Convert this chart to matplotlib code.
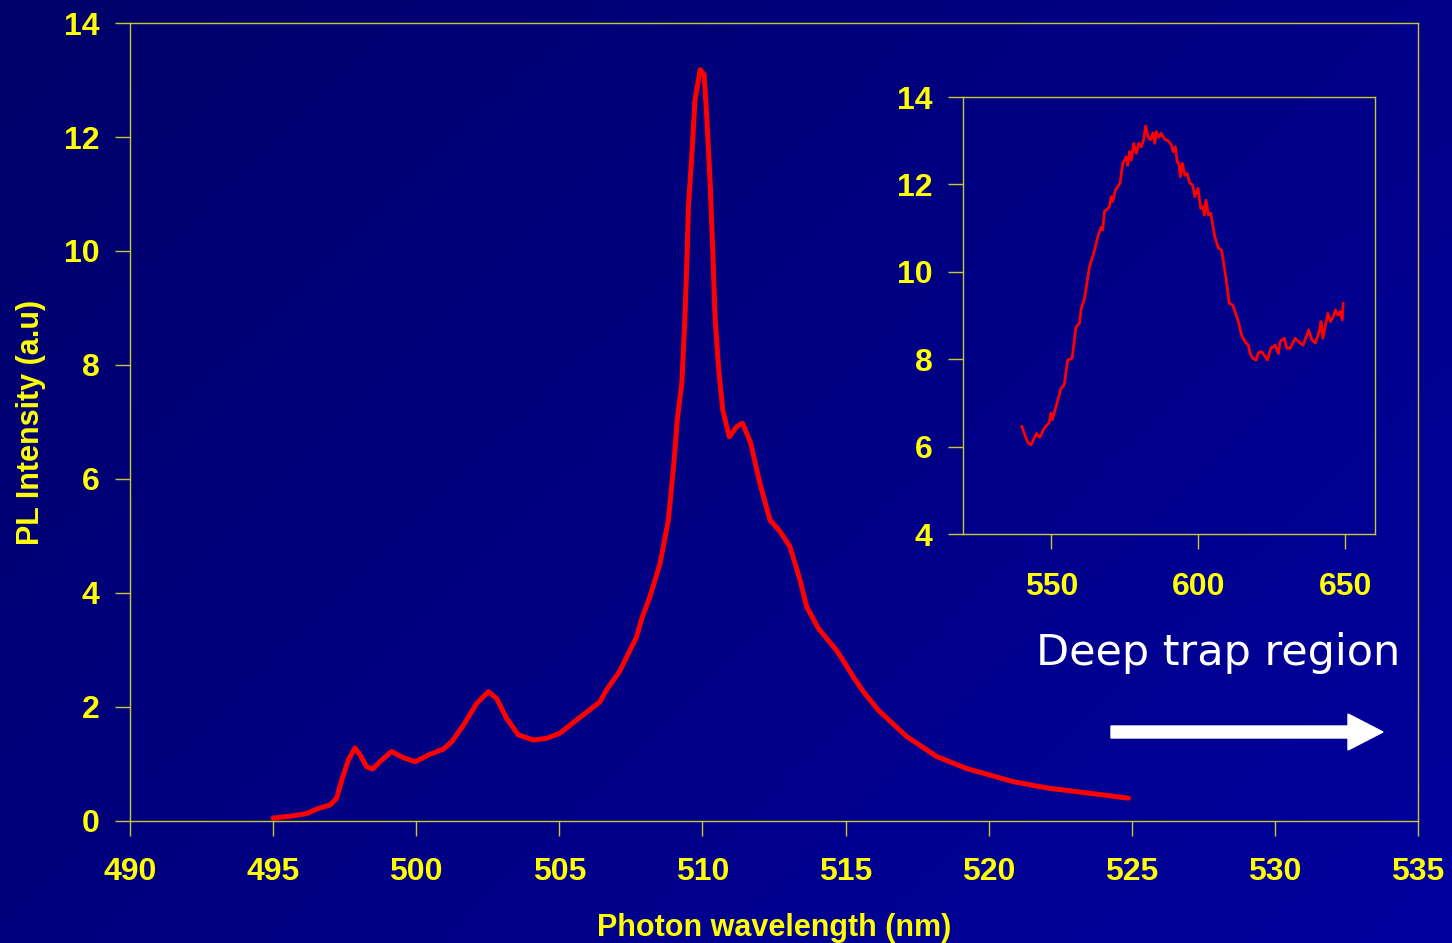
import numpy as np
import matplotlib
matplotlib.use('Agg')
import matplotlib.pyplot as plt
from matplotlib.patches import FancyArrow

# main PL spectrum (nm, a.u.)
wl = [495.0, 495.7, 496.17, 496.58, 496.99, 497.22, 497.4, 497.63, 497.86, 498.04,
      498.27, 498.48, 498.73, 499.14, 499.55, 499.96, 500.48, 500.95, 501.24, 501.65,
      502.11, 502.52, 502.81, 503.16, 503.57, 504.09, 504.56, 505.02, 505.6, 506.19,
      506.42, 506.65, 507.1, 507.7, 507.88, 508.17, 508.52, 508.81, 508.98, 509.04,
      509.12, 509.28, 509.39, 509.47, 509.51, 509.62, 509.74, 509.92, 510.06, 510.15,
      510.27, 510.36, 510.44, 510.56, 510.71, 510.94, 511.2, 511.4, 511.68, 512.01,
      512.36, 512.71, 513.06, 513.41, 513.64, 514.05, 514.72, 515.27, 515.62, 516.15,
      517.14, 518.19, 519.23, 520.86, 522.03, 523.78, 524.88]
pl = [0.05, 0.09, 0.13, 0.22, 0.28, 0.40, 0.72, 1.07, 1.28, 1.16,
      0.95, 0.91, 1.04, 1.22, 1.11, 1.04, 1.17, 1.26, 1.39, 1.68,
      2.06, 2.27, 2.15, 1.80, 1.51, 1.42, 1.45, 1.54, 1.77, 2.00,
      2.09, 2.30, 2.62, 3.23, 3.55, 3.94, 4.52, 5.28, 6.16, 6.51,
      7.04, 7.68, 8.85, 10.02, 10.78, 11.6, 12.65, 13.18, 13.10, 12.36,
      11.19, 10.02, 8.85, 7.97, 7.21, 6.74, 6.92, 6.98, 6.64, 5.92,
      5.28, 5.08, 4.81, 4.23, 3.76, 3.38, 2.97, 2.53, 2.27, 1.94,
      1.48, 1.13, 0.92, 0.69, 0.58, 0.47, 0.40]

# deep trap region (inset)
wl_deep = [540.0, 541.9, 543.1, 545.0, 546.1, 547.6, 549.3, 549.9, 550.4, 551.6,
           553.3, 554.4, 555.6, 557.1, 558.4, 559.6, 560.1, 561.3, 563.0, 564.1,
           565.0, 565.8, 567.0, 567.5, 568.1, 569.8, 570.4, 570.9, 571.8, 573.4,
           574.3, 575.5, 576.0, 576.6, 577.2, 578.0, 578.9, 579.8, 580.6, 581.4,
           582.1, 582.9, 583.7, 584.6, 585.2, 585.7, 586.6, 587.4, 588.6, 589.7,
           590.9, 591.4, 592.2, 592.8, 593.4, 593.9, 594.6, 595.4, 596.2, 597.1,
           598.0, 598.8, 599.9, 600.8, 601.6, 602.0, 602.6, 603.4, 604.2, 605.6,
           606.8, 607.9, 609.4, 610.5, 611.7, 613.6, 614.7, 615.9, 617.0, 617.6,
           618.5, 619.6, 620.4, 621.6, 623.5, 624.6, 626.1, 627.2, 627.8, 629.2,
           630.1, 631.2, 632.9, 634.1, 635.6, 637.5, 638.6, 639.8, 641.2, 641.7,
           642.3, 643.2, 644.0, 644.9, 645.8, 646.6, 647.4, 648.1, 648.9, 649.2]
pl_deep = [6.46, 6.11, 6.04, 6.30, 6.21, 6.42, 6.55, 6.76, 6.62, 6.91,
           7.33, 7.41, 7.98, 8.02, 8.74, 8.82, 9.13, 9.39, 10.12, 10.35,
           10.57, 10.80, 11.03, 10.96, 11.38, 11.49, 11.72, 11.61, 11.87, 12.03,
           12.48, 12.63, 12.44, 12.75, 12.56, 12.94, 12.71, 12.94, 12.86, 13.02,
           13.34, 13.09, 13.02, 13.18, 12.94, 13.21, 13.08, 13.17, 13.03, 13.00,
           12.90, 12.75, 12.86, 12.52, 12.48, 12.18, 12.48, 12.21, 12.25, 12.03,
           11.99, 11.72, 11.91, 11.45, 11.49, 11.30, 11.64, 11.30, 11.34, 10.80,
           10.54, 10.50, 9.85, 9.28, 9.24, 8.86, 8.55, 8.40, 8.32, 8.13,
           8.02, 7.98, 8.15, 8.17, 7.98, 8.25, 8.32, 8.13, 8.40, 8.48,
           8.25, 8.25, 8.48, 8.40, 8.32, 8.67, 8.44, 8.37, 8.67, 8.86,
           8.48, 8.78, 9.05, 8.86, 8.97, 9.13, 9.01, 9.09, 8.90, 9.28]

yellow = '#ffff00'
spine_c = '#c8c832'
plt.rcParams['font.family'] = ['Liberation Sans', 'DejaVu Sans']
plt.rcParams['font.weight'] = 'bold'

fig = plt.figure(figsize=(14.52, 9.43), dpi=100)

# gradient background
bg = fig.add_axes([0, 0, 1, 1], zorder=-10)
gx, gy = np.meshgrid(np.linspace(0, 1, 200), np.linspace(0, 1, 200))
g = (gx * 0.6 + gy * 0.4)
c0 = np.array([0, 0, 105]) / 255.
c1 = np.array([0, 0, 158]) / 255.
img = c0[None, None, :] * (1 - g[..., None]) + c1[None, None, :] * g[..., None]
bg.imshow(img, aspect='auto', extent=[0, 1, 0, 1], origin='upper')
bg.axis('off')

ax = fig.add_axes([0.0895, 0.1294, 0.8871, 0.8462])
ax.patch.set_alpha(0)
ax.plot(wl, pl, color='#ff0000', lw=3.6, solid_capstyle='round',
        solid_joinstyle='round')
ax.set_xlim(490, 535)
ax.set_ylim(0, 14)
ax.set_xticks(np.arange(490, 536, 5))
ax.set_yticks(np.arange(0, 15, 2))
ax.tick_params(direction='out', length=11, width=1, color=spine_c,
               labelcolor=yellow, labelsize=23)
ax.tick_params(axis='x', pad=15)
ax.tick_params(axis='y', pad=11)
for s in ax.spines.values():
    s.set_color(spine_c)
    s.set_linewidth(1)
ax.set_xlabel('Photon wavelength (nm)', color=yellow, fontsize=22,
              fontweight='bold', labelpad=19)
ax.set_ylabel('PL Intensity (a.u)', color=yellow, fontsize=22,
              fontweight='bold', labelpad=13)

ins = fig.add_axes([0.6632, 0.4337, 0.2837, 0.4634])
ins.patch.set_alpha(0)
ins.plot(wl_deep, pl_deep, color='#ff0000', lw=2.0)
ins.set_xlim(520, 660)
ins.set_ylim(4, 14)
ins.set_xticks([550, 600, 650])
ins.set_yticks(np.arange(4, 15, 2))
ins.tick_params(direction='out', length=11, width=1, color=spine_c,
                labelcolor=yellow, labelsize=23)
ins.tick_params(axis='x', pad=16)
ins.tick_params(axis='y', pad=11)
for s in ins.spines.values():
    s.set_color(spine_c)
    s.set_linewidth(1)

fig.text(1218 / 1452, 1 - 653 / 943, 'Deep trap region', color='white',
         fontsize=31, fontweight='normal', family='DejaVu Sans',
         ha='center', va='center')

arr = FancyArrow(11.11, 2.11, 2.72, 0, width=0.12, head_width=0.36,
                 head_length=0.35, length_includes_head=True,
                 color='white', transform=fig.dpi_scale_trans)
fig.patches.append(arr)

fig.savefig('out.png', dpi=100)
